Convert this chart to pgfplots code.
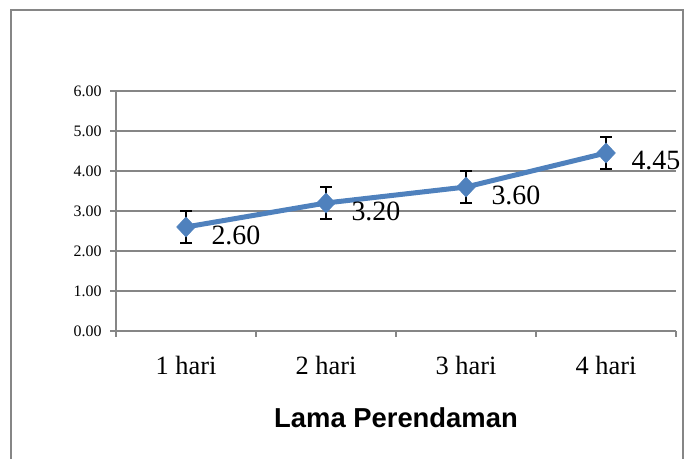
\documentclass[border=0pt]{standalone}
\usepackage{pgfplots}
\pgfplotsset{compat=1.18}
\usepackage{fontspec}
\setmainfont{Liberation Serif}
\newfontfamily\sansfont{Liberation Sans}
\definecolor{serblue}{HTML}{4F81BD}
\definecolor{gridgray}{HTML}{868686}
\begin{document}
\begin{tikzpicture}[x=1bp,y=1bp]
\useasboundingbox (0,0) rectangle (684,459);
\draw[gridgray, line width=1.2bp] (11,-10) rectangle (683,449);
\begin{axis}[
  at={(116bp,128bp)}, anchor=south west,
  scale only axis, width=560bp, height=240bp,
  xmin=0.5, xmax=4.5, ymin=0, ymax=6,
  axis x line*=bottom, axis y line*=left,
  axis line style={gridgray, line width=1.2bp},
  xtick={0.5,1.5,2.5,3.5,4.5}, xticklabels={},
  extra x ticks={1,2,3,4},
  extra x tick labels={1 hari,2 hari,3 hari,4 hari},
  extra x tick style={major tick length=0pt, xmajorgrids=false,
     tick label style={font=\fontsize{26.5}{30}\selectfont, anchor=base, yshift=-44bp}},
  ytick={0,1,2,3,4,5,6},
  ymajorgrids, grid style={gridgray, line width=1.2bp},
  tick style={gridgray, line width=1.2bp},
  tick align=outside, major tick length=6bp,
  yticklabel style={font=\fontsize{16}{18}\selectfont, anchor=east, xshift=-5bp},
  /pgf/number format/assume math mode=true,
  yticklabel={\pgfmathprintnumber[fixed,precision=2,zerofill]{\tick}},
  clip=false,
]
\addplot[serblue, line width=5bp, mark=diamond*, mark size=10bp,
  mark options={xscale=1.25, solid, fill=serblue, draw=serblue, line width=0.5bp},
  error bars/.cd, y dir=both, y explicit,
  error bar style={black, line width=1.3bp},
  error mark options={black, line width=1.3bp, mark size=6bp, rotate=90}]
  coordinates {(1,2.60) +- (0,0.40) (2,3.20) +- (0,0.40) (3,3.60) +- (0,0.40) (4,4.45) +- (0,0.40)};
\addplot[draw=none, mark=none,
  nodes near coords={\pgfmathprintnumber[fixed,precision=2,zerofill]{\pgfplotspointmeta}},
  point meta=explicit,
  every node near coord/.style={font=\fontsize{28}{32}\selectfont, anchor=west, xshift=22bp, yshift=-8bp, text=black}]
  coordinates {(1,2.60)[2.60] (2,3.20)[3.20] (3,3.60)[3.60] (4,4.45)[4.45]};
\node[font=\sansfont\bfseries\fontsize{27.5}{30}\selectfont] at (axis description cs:0.5,-0.3625) {Lama Perendaman};
\end{axis}
\end{tikzpicture}
\end{document}
